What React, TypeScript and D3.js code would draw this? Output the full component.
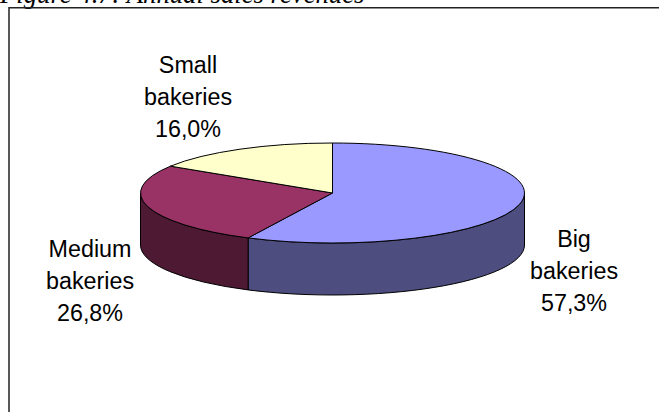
import * as d3 from "d3";

const categories = ["Big", "Medium", "Small"];
const shares = [57.3, 26.8, 16.0];
const shareLabels = ["57,3%", "26,8%", "16,0%"];
const topColors = ["#9999ff", "#993366", "#ffffcc"];
const sideColors = ["#4d4d7f", "#4d1933", "#808066"];
const title = "Figure 4.7: Annual sales revenues";

const width = 659;
const height = 412;
const cx = 332.5;
const cy = 193;
const rx = 192;
const ry = 50;
const depth = 52;

// label centres, one per category (first line baseline)
const labelPos = [
  { x: 574, y: 247 },
  { x: 90, y: 257 },
  { x: 188, y: 72.5 },
];

const slices = d3
  .pie<number>()
  .sort(null)
  .value((d) => d)(shares);

const arc = d3.arc<d3.PieArcDatum<number>>().innerRadius(0).outerRadius(rx);

const px = (a: number) => cx + rx * Math.sin(a);
const py = (a: number) => cy - ry * Math.cos(a);

// outer wall of a slice, only the part that faces the viewer
function wall(d: d3.PieArcDatum<number>) {
  const a0 = Math.max(d.startAngle, Math.PI / 2);
  const a1 = Math.min(d.endAngle, (Math.PI * 3) / 2);
  if (a1 <= a0) return null;
  return (
    `M${px(a0)},${py(a0)}A${rx},${ry} 0 0 1 ${px(a1)},${py(a1)}` +
    `L${px(a1)},${py(a1) + depth}A${rx},${ry} 0 0 0 ${px(a0)},${py(a0) + depth}Z`
  );
}

export default function App() {
  return (
    <svg
      width={width}
      height={height}
      style={{ position: "absolute", left: 0, top: 0 }}
    >
      <rect width={width} height={height} fill="#fff" />
      <text
        x={0}
        y={3}
        fontFamily="Liberation Serif"
        fontStyle="italic"
        fontSize={26.7}
        fill="#000"
      >
        {title}
      </text>
      <path
        d={`M9,${height}V7.8H${width}`}
        fill="none"
        stroke="#222"
        strokeWidth={1.5}
      />
      {slices.map((d, i) => {
        const path = wall(d);
        return path ? (
          <path key={i} d={path} fill={sideColors[i]} stroke="#000" strokeWidth={1} />
        ) : null;
      })}
      <g transform={`translate(${cx},${cy}) scale(1,${ry / rx})`}>
        {slices.map((d, i) => (
          <path
            key={i}
            d={arc(d) ?? ""}
            fill={topColors[i]}
            stroke="#000"
            strokeWidth={1}
            vectorEffect="non-scaling-stroke"
          />
        ))}
      </g>
      {categories.map((c, i) => (
        <text
          key={c}
          textAnchor="middle"
          fontFamily="Liberation Sans"
          fontSize={23.3}
          fill="#000"
        >
          <tspan x={labelPos[i].x} y={labelPos[i].y}>
            {c}
          </tspan>
          <tspan x={labelPos[i].x} y={labelPos[i].y + 32}>
            bakeries
          </tspan>
          <tspan x={labelPos[i].x} y={labelPos[i].y + 64}>
            {shareLabels[i]}
          </tspan>
        </text>
      ))}
    </svg>
  );
}
